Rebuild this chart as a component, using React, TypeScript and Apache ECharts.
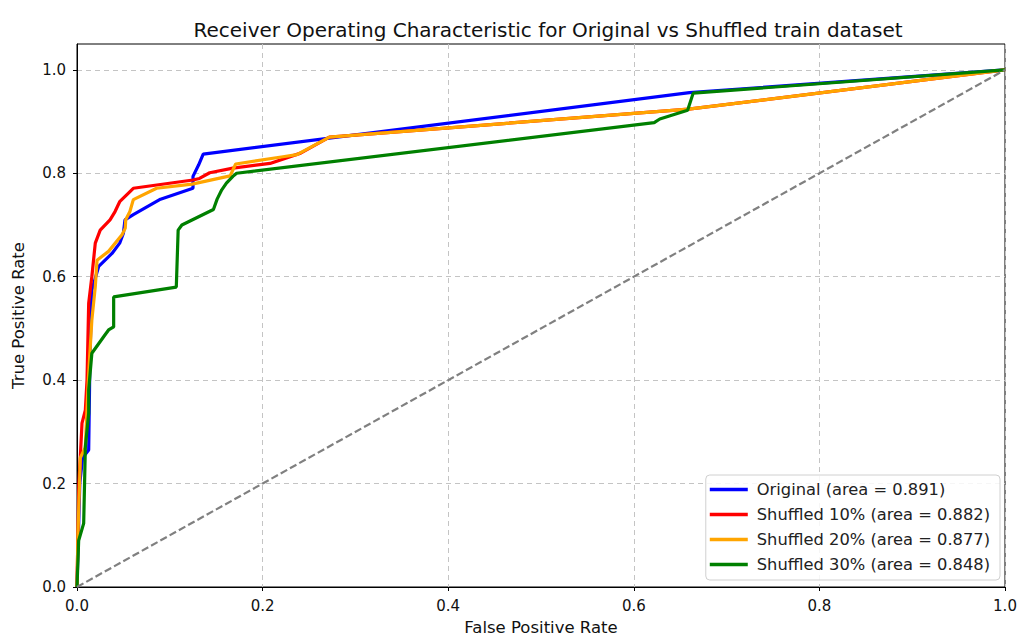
import React, { useEffect, useRef } from "react";
import * as echarts from "echarts";

const TITLE = "Receiver Operating Characteristic for Original vs Shuffled train dataset";
const X_LABEL = "False Positive Rate";
const Y_LABEL = "True Positive Rate";
const TICKS = [0, 0.2, 0.4, 0.6, 0.8, 1.0];

const SERIES_NAMES = [
  "Original (area = 0.891)",
  "Shuffled 10% (area = 0.882)",
  "Shuffled 20% (area = 0.877)",
  "Shuffled 30% (area = 0.848)",
];
const SERIES_COLORS = ["#0000ff", "#ff0000", "#ffa500", "#008000"];

const originalFpr = [0, 0.003, 0.006, 0.0126, 0.014, 0.016, 0.0234, 0.0377, 0.046, 0.05, 0.0517, 0.0607, 0.09, 0.125, 0.125, 0.131, 0.136, 0.66, 1];
const originalTpr = [0, 0.2, 0.25, 0.265, 0.45, 0.574, 0.62, 0.645, 0.665, 0.684, 0.71, 0.72, 0.75, 0.771, 0.794, 0.816, 0.837, 0.956, 1];

const shuffled10Fpr = [0, 0.002, 0.0036, 0.0054, 0.009, 0.0108, 0.0126, 0.016, 0.0197, 0.025, 0.0356, 0.041, 0.046, 0.0607, 0.125, 0.132, 0.143, 0.168, 0.208, 0.241, 0.272, 0.659, 1];
const shuffled10Tpr = [0, 0.2, 0.252, 0.317, 0.342, 0.4, 0.549, 0.6, 0.665, 0.69, 0.71, 0.726, 0.745, 0.771, 0.787, 0.79, 0.801, 0.81, 0.819, 0.839, 0.87, 0.924, 1];

const shuffled20Fpr = [0, 0.001, 0.0036, 0.009, 0.012, 0.016, 0.0197, 0.0216, 0.034, 0.0485, 0.052, 0.0525, 0.057, 0.0607, 0.0858, 0.124, 0.165, 0.171, 0.222, 0.237, 0.272, 0.659, 1];
const shuffled20Tpr = [0, 0.1, 0.25, 0.27, 0.394, 0.516, 0.581, 0.632, 0.649, 0.681, 0.694, 0.71, 0.726, 0.749, 0.771, 0.779, 0.795, 0.818, 0.832, 0.836, 0.87, 0.924, 1];

const shuffled30Fpr = [0, 0.0018, 0.0072, 0.009, 0.0126, 0.0126, 0.016, 0.0287, 0.034, 0.0395, 0.0395, 0.107, 0.109, 0.113, 0.147, 0.151, 0.156, 0.161, 0.168, 0.172, 0.622, 0.628, 0.658, 0.664, 1];
const shuffled30Tpr = [0, 0.09, 0.123, 0.271, 0.336, 0.381, 0.452, 0.484, 0.497, 0.503, 0.561, 0.58, 0.69, 0.7, 0.73, 0.75, 0.768, 0.781, 0.794, 0.8, 0.898, 0.905, 0.922, 0.955, 1];

const chanceX = [0, 1];
const chanceY = [0, 1];

const zip = (xs: number[], ys: number[]) => xs.map((x, i) => [x, ys[i]]);

const FONT = "DejaVu Sans";

export default function App() {
  const ref = useRef<HTMLDivElement>(null);
  useEffect(() => {
    if (!ref.current) return;
    const chart = echarts.init(ref.current, undefined, { renderer: "svg" });
    const curves = [
      zip(originalFpr, originalTpr),
      zip(shuffled10Fpr, shuffled10Tpr),
      zip(shuffled20Fpr, shuffled20Tpr),
      zip(shuffled30Fpr, shuffled30Tpr),
    ];
    const fmt = (v: number) =>
      Math.abs(v * 5 - Math.round(v * 5)) < 1e-6 ? v.toFixed(1) : "";
    const axisCommon = {
      type: "value" as const,
      min: 0,
      interval: 0.2,
      axisLine: { show: true, onZero: false, lineStyle: { color: "#000", width: 1 } },
      axisTick: { show: true, inside: false, length: 4, lineStyle: { color: "#000" }, customValues: TICKS },
      axisLabel: { show: true, color: "#111", fontSize: 15, fontFamily: FONT, margin: 11, formatter: fmt, customValues: TICKS },
      splitLine: { show: true, lineStyle: { color: "#c4c4c4", type: [5, 4], width: 1 } },
      nameLocation: "middle" as const,
      nameTextStyle: { color: "#111", fontSize: 16.5, fontFamily: FONT },
    };
    chart.setOption({
      animation: false,
      backgroundColor: "#fff",
      title: {
        text: TITLE,
        left: 543,
        textAlign: "center",
        top: 15,
        textStyle: { fontSize: 20, fontWeight: "normal", color: "#111", fontFamily: FONT },
      },
      grid: {
        left: 77,
        right: 14,
        top: 44,
        bottom: 50,
        show: true,
        borderColor: "#000",
        borderWidth: 1,
        backgroundColor: "transparent",
        containLabel: false,
        outerBoundsMode: "none",
      },
      xAxis: { ...axisCommon, max: 1, name: X_LABEL, nameGap: 32 },
      yAxis: { ...axisCommon, max: 1.05, name: Y_LABEL, nameGap: 50 },
      legend: {
        show: true,
        data: SERIES_NAMES,
        orient: "vertical",
        right: 19,
        bottom: 57,
        icon: "rect",
        itemWidth: 38,
        itemHeight: 3.5,
        itemGap: 6,
        padding: [5, 10, 6, 4],
        backgroundColor: "rgba(255,255,255,0.85)",
        borderColor: "#d0d0d0",
        borderWidth: 1,
        borderRadius: 4,
        textStyle: { fontSize: 16.3, color: "#222", fontFamily: FONT, lineHeight: 19, padding: [0, 0, 0, 4] },
      },
      series: [
        ...curves.map((d, i) => ({
          name: SERIES_NAMES[i],
          type: "line",
          data: d,
          showSymbol: false,
          symbol: "none",
          color: SERIES_COLORS[i],
          lineStyle: { color: SERIES_COLORS[i], width: 3.2 },
          z: 2 + i,
        })),
        {
          name: "chance",
          type: "line",
          data: zip(chanceX, chanceY),
          symbol: "none",
          lineStyle: { color: "#808080", width: 2.2, type: [7.4, 3.2] },
          z: 10,
        },
      ],
    });
    return () => chart.dispose();
  }, []);
  return (
    <div
      ref={ref}
      style={{ position: "fixed", left: 0, top: 0, width: 1019, height: 637, background: "#fff" }}
    />
  );
}
